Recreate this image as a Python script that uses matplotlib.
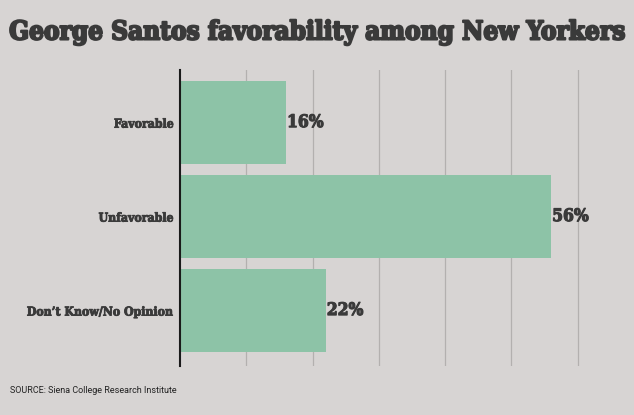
import matplotlib.pyplot as plt
import matplotlib.patheffects as pe

categories = ["Favorable", "Unfavorable", "Don\u2019t Know/No Opinion"]
values = [16, 56, 22]
value_labels = ["16%", "56%", "22%"]
grid_ticks = [10, 20, 30, 40, 50, 60]

bg = "#d7d4d3"
bar_color = "#8dc3a7"
ink = "#3a3a3a"

fig = plt.figure(figsize=(6.34, 4.15), dpi=100, facecolor=bg)
ax = fig.add_axes([180/634, 1 - 366/415, 1 - 180/634, (366 - 70)/415])
ax.set_facecolor(bg)

ax.barh(range(len(values)), values, height=0.89, color=bar_color, zorder=2)
ax.set_xlim(0, 68.5)
ax.set_ylim(2.59, -0.56)

ax.set_xticks(grid_ticks)
ax.xaxis.grid(True, color="#b3b0af", linewidth=0.9, zorder=0)
ax.tick_params(axis="x", length=0, labelbottom=False)
ax.tick_params(axis="y", length=0, pad=4)
ax.set_yticks(range(len(categories)))
ax.set_yticklabels(categories, fontfamily="DejaVu Serif", fontstretch="condensed",
                   fontweight="bold", fontsize=8.8, color=ink)
for lab in ax.get_yticklabels():
    lab.set_path_effects([pe.withStroke(linewidth=0.6, foreground=ink)])

for s in ["top", "right", "bottom"]:
    ax.spines[s].set_visible(False)
ax.spines["left"].set_color("#1a1a1a")
ax.spines["left"].set_linewidth(1.5)

for i, v in enumerate(values):
    ax.text(v + 0.15, i, value_labels[i], va="center", ha="left",
            fontfamily="DejaVu Serif", fontstretch="condensed", fontweight="bold",
            fontsize=12.5, color=ink, zorder=3,
            path_effects=[pe.withStroke(linewidth=0.8, foreground=ink)])

fig.text(0.5, 1 - 32/415, "George Santos favorability among New Yorkers",
         ha="center", va="center", fontfamily="DejaVu Serif", fontstretch="condensed",
         fontweight="bold", fontsize=18.7, color=ink,
         path_effects=[pe.withStroke(linewidth=1.5, foreground=ink)])

fig.text(10/634, 1 - 390/415, "SOURCE: Siena College Research Institute",
         ha="left", va="center", fontfamily="Roboto", fontsize=6.5, color="#222222")

fig.savefig("out.png", dpi=100, facecolor=bg)
